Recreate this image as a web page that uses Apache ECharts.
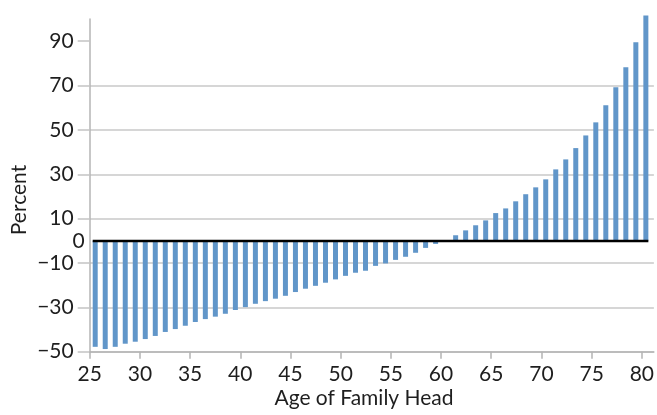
<!DOCTYPE html>
<html>
<head>
<meta charset="utf-8">
<script src="https://cdn.jsdelivr.net/npm/echarts@6/dist/echarts.min.js"></script>
<style>
html,body{margin:0;padding:0;background:#fff;}
#chart{width:657px;height:415px;}
</style>
</head>
<body>
<div id="chart"></div>
<script>
const ages = [25,26,27,28,29,30,31,32,33,34,35,36,37,38,39,40,41,42,43,44,45,46,47,48,49,50,51,52,53,54,55,56,57,58,59,60,61,62,63,64,65,66,67,68,69,70,71,72,73,74,75,76,77,78,79,80];
const percentChange = [-47.8,-48.8,-47.8,-46.4,-45.5,-44.3,-42.9,-41.1,-39.8,-38.3,-36.6,-35.3,-34.2,-32.9,-31.2,-29.9,-28.4,-27.2,-26.1,-24.8,-23.1,-21.6,-20.3,-18.9,-17.4,-15.8,-14.4,-13.5,-11.3,-10.2,-8.6,-7.2,-5.4,-3.2,-1.4,0,2.5,4.7,7.0,9.2,12.5,14.6,17.8,21.0,24.1,27.7,32.2,36.7,41.8,47.5,53.4,61.1,69.2,78.2,89.5,101.6];
const yTicks = [-50,-30,-10,10,30,50,70,90];
const xTicks = [25,30,35,40,45,50,55,60,65,70,75,80];

const FONT = 'Lato';
const FS = 21;
const TXT = '#1e1e1e';
const fmtNum = v => String(v).replace('-', '\u2212');

const chart = echarts.init(document.getElementById('chart'), null, {renderer:'canvas'});
chart.setOption({
  animation: false,
  backgroundColor: '#ffffff',
  textStyle: {fontFamily: FONT},
  grid: {left: 89.7, right: 2.5, top: 19, bottom: 63.3, containLabel: false},
  xAxis: [{
    type: 'value', min: 25, max: 81.2, interval: 5,
    axisLine: {show: true, onZero: false, lineStyle: {color: '#b4b4b4', width: 1.5}},
    axisTick: {show: true, length: 7, customValues: xTicks, lineStyle: {color: '#b4b4b4', width: 1.5}},
    axisLabel: {customValues: xTicks, margin: 12, fontSize: FS, color: TXT, fontFamily: FONT},
    splitLine: {show: false}
  }, {
    type: 'value', min: 24.45, max: 80.8, show: false
  }],
  yAxis: {
    type: 'value', min: -50, max: 100, interval: 20,
    axisLine: {show: true, lineStyle: {color: '#b4b4b4', width: 1.5}},
    axisTick: {show: true, length: 12, customValues: yTicks, lineStyle: {color: '#c4c4c4', width: 1.5}},
    axisLabel: {customValues: yTicks, margin: 16, fontSize: FS, color: TXT, fontFamily: FONT, formatter: fmtNum},
    splitLine: {show: true, showMaxLine: false, lineStyle: {color: '#c8c8c8', width: 1.5}}
  },
  graphic: [
    {type: 'text', x: 19.5, y: 200, rotation: Math.PI/2,
     style: {text: 'Percent', fontSize: FS, fontFamily: FONT, fill: TXT, align: 'center', verticalAlign: 'middle'}},
    {type: 'text', x: 364, y: 398,
     style: {text: 'Age of Family Head', fontSize: FS, fontFamily: FONT, fill: TXT, align: 'center', verticalAlign: 'middle'}}
  ],
  series: [{
    type: 'bar',
    xAxisIndex: 1,
    clip: false,
    barWidth: 5,
    itemStyle: {color: '#6196c9'},
    data: ages.map((a, i) => [a, percentChange[i]]),
    markLine: {
      silent: true,
      symbol: 'none',
      lineStyle: {color: '#000000', width: 2.3, type: 'solid'},
      label: {show: true, position: 'start', formatter: '0', fontSize: FS, color: TXT, fontFamily: FONT, distance: 8},
      data: [[{coord: [24.75, 0]}, {coord: [80.25, 0]}]]
    }
  }]
});
</script>
</body>
</html>
